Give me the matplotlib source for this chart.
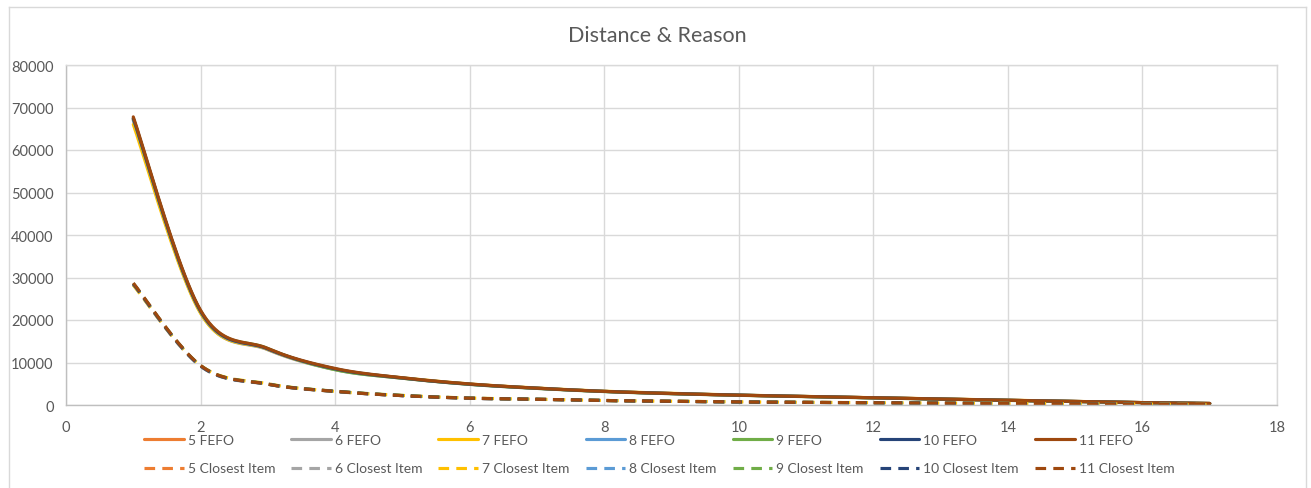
import numpy as np
import matplotlib
matplotlib.use("Agg")
import matplotlib.pyplot as plt
from matplotlib.lines import Line2D

# ---- data -------------------------------------------------------------
steps = [1, 2, 3, 4, 5, 6, 7, 8, 9, 10, 11, 12, 13, 14, 15, 16, 17]

fefo_5 = [67200, 21900, 13100, 8400, 6300, 4900, 3950, 3200, 2700, 2300, 2000, 1700, 1400, 1100, 850, 560, 360]
fefo_6 = [67000, 21700, 13000, 8300, 6300, 4850, 3900, 3200, 2650, 2300, 1980, 1680, 1380, 1080, 830, 540, 340]
fefo_7 = [66000, 21600, 13100, 8400, 6400, 4950, 4000, 3250, 2750, 2350, 2020, 1720, 1420, 1120, 860, 570, 370]
fefo_8 = [67300, 22000, 13200, 8500, 6350, 4900, 3950, 3200, 2700, 2320, 2000, 1700, 1400, 1100, 850, 560, 360]
fefo_9 = [67400, 22100, 13300, 8300, 6300, 4850, 3900, 3150, 2650, 2280, 1960, 1660, 1360, 1060, 820, 530, 330]
fefo_10 = [67500, 22100, 13200, 8500, 6350, 4900, 3950, 3200, 2700, 2320, 2000, 1700, 1400, 1100, 850, 560, 360]
fefo_11 = [67800, 22300, 13300, 8600, 6400, 4950, 3950, 3200, 2700, 2300, 2000, 1700, 1400, 1100, 850, 560, 360]

closest_5 = [28400, 9200, 4900, 3200, 2200, 1600, 1350, 1050, 880, 720, 620, 520, 450, 360, 260, 160, 110]
closest_6 = [28300, 9100, 4850, 3150, 2200, 1580, 1330, 1030, 860, 700, 600, 500, 430, 350, 250, 150, 100]
closest_7 = [28200, 9300, 5000, 3200, 2250, 1640, 1370, 1070, 890, 730, 630, 530, 460, 370, 270, 170, 120]
closest_8 = [28500, 9200, 4900, 3200, 2200, 1600, 1350, 1050, 870, 710, 610, 510, 440, 360, 260, 160, 110]
closest_9 = [28600, 9300, 4950, 3250, 2250, 1620, 1360, 1060, 880, 720, 620, 520, 450, 360, 260, 160, 110]
closest_10 = [28500, 9200, 4900, 3200, 2200, 1600, 1350, 1050, 870, 710, 610, 510, 440, 360, 260, 160, 110]
closest_11 = [28700, 9300, 4900, 3200, 2200, 1600, 1350, 1050, 880, 720, 620, 520, 450, 360, 260, 160, 110]

series_names = ["5", "6", "7", "8", "9", "10", "11"]
fefo_series = [fefo_5, fefo_6, fefo_7, fefo_8, fefo_9, fefo_10, fefo_11]
closest_series = [closest_5, closest_6, closest_7, closest_8, closest_9, closest_10, closest_11]
colors = ["#ED7D31", "#A5A5A5", "#FFC000", "#5B9BD5", "#70AD47", "#264478", "#9E480E"]

x_ticks = [0, 2, 4, 6, 8, 10, 12, 14, 16, 18]
y_ticks = [0, 10000, 20000, 30000, 40000, 50000, 60000, 70000, 80000]
title = "Distance & Reason"


def smooth_curve(xs, ys, samples=24):
    """Bezier smoothing through every point (tension 1/6 of neighbour span)."""
    p = np.column_stack([xs, ys]).astype(float)
    n = len(p)
    out = [p[:1]]
    t = np.linspace(0, 1, samples)[1:, None]
    for i in range(n - 1):
        p0 = p[i]
        p3 = p[i + 1]
        prev = p[i - 1] if i > 0 else p[i]
        nxt = p[i + 2] if i + 2 < n else p[i + 1]
        c1 = p0 + (p3 - prev) / 6.0
        c2 = p3 - (nxt - p0) / 6.0
        seg = ((1 - t) ** 3) * p0 + 3 * ((1 - t) ** 2) * t * c1 \
            + 3 * (1 - t) * t ** 2 * c2 + t ** 3 * p3
        out.append(seg)
    pts = np.vstack(out)
    return pts[:, 0], pts[:, 1]


plt.rcParams["font.family"] = ["Lato", "DejaVu Sans"]
text_color = "#595959"
grid_color = "#D9D9D9"
axis_color = "#BFBFBF"

W, H = 1311, 489
fig = plt.figure(figsize=(W / 100, H / 100), dpi=100)
fig.patch.set_facecolor("white")

ax = fig.add_axes([66 / W, 1 - 406 / H, (1277 - 66) / W, (406 - 66) / H])

lw = 2.25
handles = []
for name, vals, col in zip(series_names, fefo_series, colors):
    sx, sy = smooth_curve(steps, vals)
    h, = ax.plot(sx, sy, color=col, lw=lw, solid_capstyle="round",
                 solid_joinstyle="round", label=f"{name} FEFO")
    handles.append(h)
dash_handles = []
for name, vals, col in zip(series_names, closest_series, colors):
    sx, sy = smooth_curve(steps, vals)
    h, = ax.plot(sx, sy, color=col, lw=lw, dashes=(3.4, 2.3),
                 dash_capstyle="butt", label=f"{name} Closest Item")
    dash_handles.append(h)

ax.set_xlim(0, 18)
ax.set_ylim(0, 80000)
ax.set_xticks(x_ticks)
ax.set_yticks(y_ticks)
ax.set_xticklabels([str(v) for v in x_ticks])
ax.set_yticklabels([str(v) for v in y_ticks])
ax.grid(True, color=grid_color, lw=1.0)
ax.set_axisbelow(True)
ax.tick_params(axis="both", length=0, labelsize=10.5, labelcolor=text_color)
ax.tick_params(axis="x", pad=11)
ax.tick_params(axis="y", pad=9)
for side in ("top", "right"):
    ax.spines[side].set_color(grid_color)
for side in ("left", "bottom"):
    ax.spines[side].set_color(axis_color)
for s in ax.spines.values():
    s.set_linewidth(1.0)

fig.suptitle(title, x=657 / W, y=1 - 36 / H, va="center", fontsize=15.5,
             color=text_color)

# legend: one column per set, FEFO on top row and Closest Item below
order = []
for a, b in zip(handles, dash_handles):
    order += [a, b]
leg = fig.legend(handles=order, labels=[h.get_label() for h in order],
                 ncol=7, loc="upper left",
                 bbox_to_anchor=(144 / W, 1 - 435 / H),
                 frameon=False, fontsize=10, handlelength=2.85,
                 handletextpad=0.3, columnspacing=1.15, labelspacing=1.18,
                 borderpad=0.0, borderaxespad=0.0)
for t in leg.get_texts():
    t.set_color(text_color)

# chart-area outline
border = dict(color=grid_color, lw=1.0, transform=fig.transFigure)
fig.add_artist(Line2D([8.5 / W, 8.5 / W], [0, 1 - 7.5 / H], **border))
fig.add_artist(Line2D([8.5 / W, 1305.5 / W], [1 - 7.5 / H, 1 - 7.5 / H], **border))
fig.add_artist(Line2D([1305.5 / W, 1305.5 / W], [0, 1 - 7.5 / H], **border))

fig.savefig("out.png", dpi=100, facecolor="white")
